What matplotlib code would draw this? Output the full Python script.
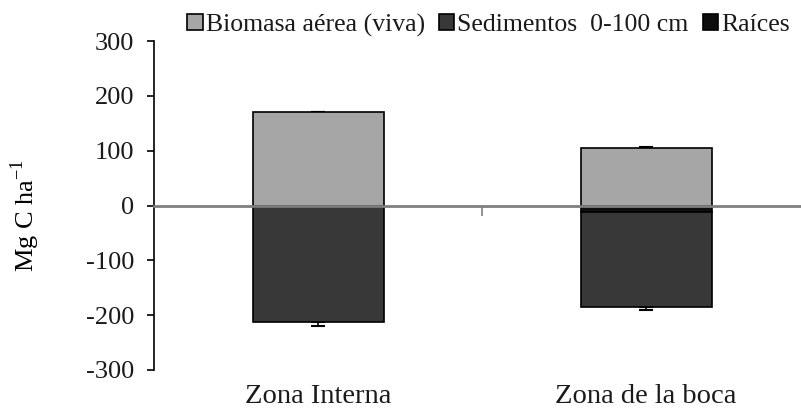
import matplotlib
matplotlib.use("Agg")
import matplotlib.pyplot as plt
import matplotlib.transforms as mtransforms
import numpy as np

plt.rcParams['font.family'] = ['Liberation Serif', 'DejaVu Serif']
plt.rcParams['mathtext.fontset'] = 'custom'
plt.rcParams['mathtext.rm'] = 'Liberation Serif'
plt.rcParams['text.color'] = '#1a1a1a'
plt.rcParams['ytick.labelcolor'] = '#1a1a1a'

categories = ["Zona Interna", "Zona de la boca"]
series_names = ["Biomasa aérea (viva)", "Sedimentos  0-100 cm", "Raíces"]
biomasa = [170, 105]
raices = [-3, -12]
sedimentos = [-210, -174]
biomasa_err = [1, 2]
sed_err = [7, 4]
yticks = [-300, -200, -100, 0, 100, 200, 300]

colors = ["#a6a6a6", "#383838", "#0d0d0d"]

fig = plt.figure(figsize=(8.01, 4.17), dpi=100)
ax = fig.add_axes([154/801, 47/417, (800-154)/801, (370-41)/417])

x = np.arange(len(categories))
w = 0.4
b1 = ax.bar(x, biomasa, w, color=colors[0], edgecolor="black", linewidth=1.2, zorder=2)
b3 = ax.bar(x, raices, w, color=colors[2], edgecolor="black", linewidth=1.2, zorder=2)
b2 = ax.bar(x, sedimentos, w, bottom=raices, color=colors[1], edgecolor="black", linewidth=1.2, zorder=2)

sed_bottom = np.array(raices) + np.array(sedimentos)
ax.errorbar(x, sed_bottom, yerr=[sed_err, [0]*len(x)], fmt="none", ecolor="black",
            elinewidth=1.2, capsize=5, capthick=1.5, zorder=1)
ax.errorbar(x, biomasa, yerr=[[0]*len(x), biomasa_err], fmt="none", ecolor="black",
            elinewidth=1.2, capsize=5, capthick=1.5, zorder=1)

ax.set_xlim(-0.502, 1.47)
ax.set_ylim(-300, 300)
ax.set_yticks(yticks)
ax.set_yticklabels([str(t) for t in yticks], fontsize=19)
ax.tick_params(axis='y', direction='out', length=5, width=1.2, pad=9)

for s in ["top", "right"]:
    ax.spines[s].set_visible(False)
ax.spines["left"].set_linewidth(1.2)
ax.spines["bottom"].set_position(("data", 0))
ax.spines["bottom"].set_color("#7f7f7f")
ax.spines["bottom"].set_linewidth(2)
ax.spines["bottom"].set_zorder(3)
ax.set_xticks([0.5])
ax.set_xticklabels([""])
ax.tick_params(axis='x', direction='out', length=7, width=1.2, color="#7f7f7f")

trans = mtransforms.blended_transform_factory(ax.transData, ax.transAxes)
for xi, c in zip(x, categories):
    ax.text(xi, -0.043, c, transform=trans, ha="center", va="top", fontsize=20.5)

ax.set_ylabel("Mg C ha$^{\\mathregular{-1}}$", fontsize=19)
ax.yaxis.set_label_coords(-0.174, 0.47)

leg = fig.legend([b1, b2, b3], series_names, loc="center", bbox_to_anchor=(0.61, 0.94),
                 ncol=3, frameon=False, fontsize=18.5, handlelength=0.6, handleheight=0.6,
                 handletextpad=0.12, columnspacing=0.55)

fig.savefig("out.png", dpi=100)
